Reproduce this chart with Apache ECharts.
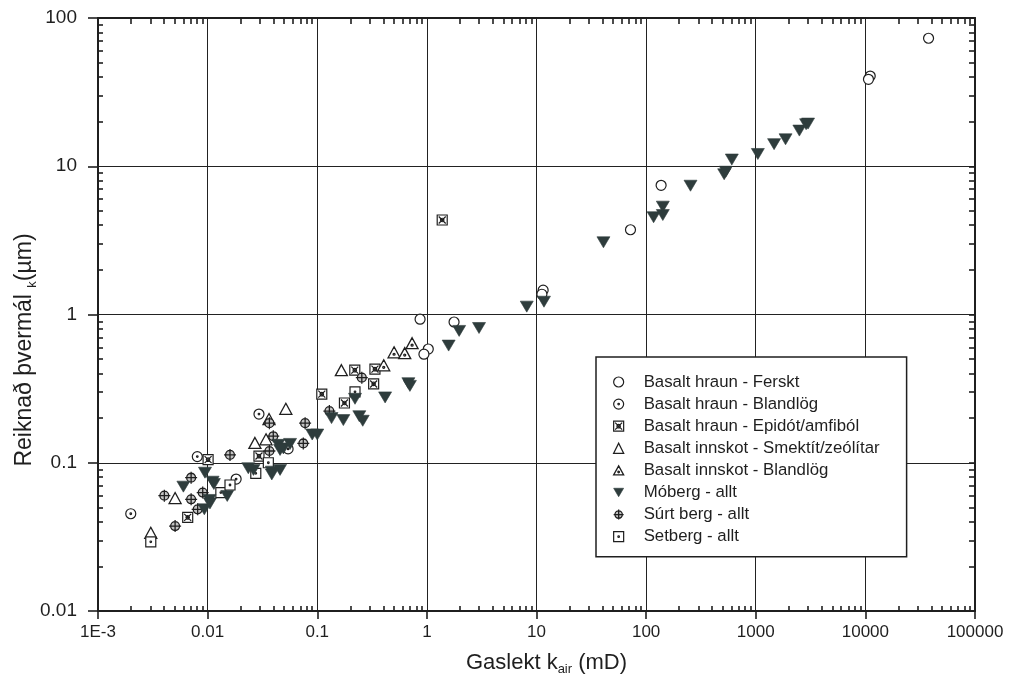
<!DOCTYPE html>
<html>
<head>
<meta charset="utf-8">
<title>Gaslekt og reiknað þvermál</title>
<script src="https://cdn.jsdelivr.net/npm/echarts@6/dist/echarts.min.js"></script>
<style>
  html, body { margin: 0; padding: 0; background: #fff; }
  #chart { width: 1019px; height: 684px; }
</style>
</head>
<body>
<div id="chart"></div>
<script>
// Sample data: [gas permeability k_air (mD), computed diameter (µm)]
const basaltFerskt = [
  [0.867, 0.93], [1.03, 0.585], [0.94, 0.54], [1.77, 0.89],
  [11.5, 1.46], [11.2, 1.37], [72, 3.73], [137, 7.44],
  [11070, 40.6], [10670, 38.6], [37700, 73]
];
const basaltBlandlog = [
  [0.0294, 0.213], [0.00805, 0.110], [0.00199, 0.0453], [0.0182, 0.0776], [0.0542, 0.124]
];
const basaltEpidot = [
  [1.38, 4.34], [0.0101, 0.105], [0.0294, 0.111], [0.110, 0.290], [0.177, 0.253],
  [0.220, 0.421], [0.336, 0.428], [0.327, 0.340], [0.00658, 0.0428]
];
const innskotSmektit = [
  [0.0517, 0.231], [0.0270, 0.136], [0.0341, 0.144], [0.00505, 0.0578],
  [0.166, 0.421], [0.00303, 0.0337]
];
const innskotBlandlog = [
  [0.0363, 0.197], [0.404, 0.454], [0.502, 0.556], [0.628, 0.549], [0.733, 0.640]
];
const moberg = [
  [8.15, 1.13], [11.7, 1.22], [40.8, 3.07], [117, 4.53], [142, 4.69], [142, 5.34],
  [254, 7.39], [515, 8.83], [533, 9.19], [605, 11.1], [1045, 12.1], [1470, 14.1],
  [1870, 15.2], [2500, 17.4], [2880, 19.2], [3000, 19.4],
  [1.97, 0.775], [2.99, 0.811], [1.58, 0.617], [0.678, 0.344], [0.70, 0.33],
  [0.416, 0.276], [0.221, 0.27], [0.135, 0.200], [0.173, 0.194], [0.242, 0.206],
  [0.260, 0.192], [0.090, 0.155], [0.100, 0.155], [0.0442, 0.132], [0.0491, 0.125],
  [0.0565, 0.134], [0.0458, 0.122], [0.0235, 0.0918], [0.0262, 0.0895],
  [0.0385, 0.0871], [0.0458, 0.0895], [0.0385, 0.0834], [0.00946, 0.0857],
  [0.00601, 0.0690], [0.0111, 0.0745], [0.0114, 0.0719], [0.0151, 0.0597],
  [0.0104, 0.0561], [0.00933, 0.0485], [0.0105, 0.0532]
];
const surtBerg = [
  [0.00403, 0.0600], [0.00505, 0.0374], [0.00707, 0.0793], [0.00707, 0.0567],
  [0.00902, 0.0629], [0.00811, 0.0485], [0.0160, 0.113], [0.0366, 0.185],
  [0.0397, 0.151], [0.0366, 0.120], [0.0775, 0.185], [0.0746, 0.135],
  [0.129, 0.223], [0.255, 0.375]
];
const setberg = [
  [0.00303, 0.0293], [0.0132, 0.0629], [0.0160, 0.0708], [0.0275, 0.0849],
  [0.0358, 0.100], [0.221, 0.301]
];

const seriesNames = [
  'Basalt hraun - Ferskt',
  'Basalt hraun - Blandlög',
  'Basalt hraun - Epidót/amfiból',
  'Basalt innskot - Smektít/zeólítar',
  'Basalt innskot - Blandlög',
  'Móberg - allt',
  'Súrt berg - allt',
  'Setberg - allt'
];
const xTickExponents = [-3, -2, -1, 0, 1, 2, 3, 4, 5];
const yTickExponents = [-2, -1, 0, 1, 2];

// Marker shapes
const DOT = 'M10,8.4A1.6,1.6 0 1 1 10,11.6A1.6,1.6 0 1 1 10,8.4Z';
const SYM = {
  circle: 'circle',
  dotCircle: 'path://M10,0A10,10 0 1 1 10,20A10,10 0 1 1 10,0Z ' + DOT,
  crossSquare: 'path://M0,0L20,0L20,20L0,20Z M3,3L17,17 M17,3L3,17 M10,6.5A3.5,3.5 0 1 1 10,13.5A3.5,3.5 0 1 1 10,6.5Z',
  triangle: 'triangle',
  dotTriangle: 'path://M10,0L20,18L0,18Z M10,10.6A1.6,1.6 0 1 1 10,13.8A1.6,1.6 0 1 1 10,10.6Z',
  downTriangle: 'path://M0,0L20,0L10,17Z',
  crossCircle: 'path://M10,2.6A7.4,7.4 0 1 1 10,17.4A7.4,7.4 0 1 1 10,2.6Z M10,0L10,20 M0,10L20,10',
  dotSquare: 'path://M0,0L20,0L20,20L0,20Z ' + DOT
};
const INK = '#1f1f1f';
const MOB = '#2e3c3c';
const styles = [
  { symbol: SYM.circle, size: 10, item: { color: '#fff', borderColor: INK, borderWidth: 1.2 } },
  { symbol: SYM.dotCircle, size: 10, item: { color: '#fff', borderColor: INK, borderWidth: 1.2 } },
  { symbol: SYM.crossSquare, size: 10, item: { color: '#fff', borderColor: INK, borderWidth: 1.2 } },
  { symbol: SYM.triangle, size: [12, 11], item: { color: '#fff', borderColor: INK, borderWidth: 1.3 } },
  { symbol: SYM.dotTriangle, size: [12, 11], item: { color: '#fff', borderColor: INK, borderWidth: 1.3 } },
  { symbol: SYM.downTriangle, size: [13, 11], item: { color: MOB, borderColor: MOB, borderWidth: 0.6 } },
  { symbol: SYM.crossCircle, size: 12, item: { color: '#c4c4c4', borderColor: INK, borderWidth: 1.3 } },
  { symbol: SYM.dotSquare, size: 10, item: { color: '#fff', borderColor: INK, borderWidth: 1.2 } }
];
const seriesData = [basaltFerskt, basaltBlandlog, basaltEpidot, innskotSmektit,
  innskotBlandlog, moberg, surtBerg, setberg];

// Minor tick positions (log10 space) for the 2..9 sub-decade marks
function minorTicks(lo, hi) {
  const out = [];
  for (let d = lo; d < hi; d++) {
    for (let k = 2; k <= 9; k++) out.push(d + Math.log10(k));
  }
  return out;
}
function majorTicks(lo, hi) {
  const out = [];
  for (let d = lo; d <= hi; d++) out.push(d);
  return out;
}
function decadeLabel(v) {
  const e = Math.round(Math.log10(v));
  if (e === -3) return '1E-3';
  if (e < 0) return '0.' + '0'.repeat(-e - 1) + '1';
  return String(Math.pow(10, e));
}

const FONT = '"Liberation Sans", Arial, Helvetica, sans-serif';
const xLo = xTickExponents[0], xHi = xTickExponents[xTickExponents.length - 1];
const yLo = yTickExponents[0], yHi = yTickExponents[yTickExponents.length - 1];
const xMin = Math.pow(10, xLo), xMax = Math.pow(10, xHi);
const yMin = Math.pow(10, yLo), yMax = Math.pow(10, yHi);

// Frame-side axes that only carry tick marks
const tickDecor = (pos, customValues, len) => {
  const horiz = pos === 'bottom' || pos === 'top';
  return {
    type: 'value', position: pos, min: horiz ? xLo : yLo, max: horiz ? xHi : yHi,
    axisLine: { show: pos === 'top' || pos === 'right', onZero: false, lineStyle: { color: INK, width: 2 } },
    axisTick: { show: true, inside: true, length: len, customValues: customValues,
      lineStyle: { color: INK, width: 1.6 } },
    axisLabel: { show: false }, splitLine: { show: false }, silent: true
  };
};

const chart = echarts.init(document.getElementById('chart'), null, { renderer: 'canvas' });
chart.setOption({
  backgroundColor: '#fff',
  animation: false,
  grid: { left: 98, right: 44, top: 18, bottom: 73, containLabel: false, outerBoundsMode: 'none' },
  xAxis: [
    {
      type: 'log', logBase: 10, min: xMin, max: xMax, position: 'bottom',
      name: '{a|Gaslekt k}{s|air}{a| (mD)}',
      nameLocation: 'middle', nameGap: 39, nameMoveOverlap: false,
      nameTextStyle: {
        padding: [0, 0, 0, 20],
        rich: {
          a: { fontSize: 22, fontFamily: FONT, color: INK, lineHeight: 26 },
          s: { fontSize: 13, fontFamily: FONT, color: INK, lineHeight: 26, padding: [13, 0, 0, 0] }
        }
      },
      axisLine: { show: true, onZero: false, lineStyle: { color: INK, width: 2 } },
      axisTick: { show: true, inside: false, length: 8, lineStyle: { color: INK, width: 1.6 } },
      axisLabel: { fontSize: 17, fontFamily: FONT, color: INK, margin: 13, formatter: decadeLabel },
      splitLine: { show: true, lineStyle: { color: '#222', width: 1 } }
    },
    tickDecor('bottom', minorTicks(xLo, xHi), 5),
    tickDecor('top', minorTicks(xLo, xHi), 6)
  ],
  yAxis: [
    {
      type: 'log', logBase: 10, min: yMin, max: yMax, position: 'left',
      name: '{a|Reiknað þvermál }{s|k}{a|(µm)}',
      nameLocation: 'middle', nameGap: 59, nameRotate: 90, nameMoveOverlap: false,
      nameTextStyle: {
        padding: [0, 71, 0, 0],
        rich: {
          a: { fontSize: 23, fontFamily: FONT, color: INK, lineHeight: 28 },
          s: { fontSize: 13, fontFamily: FONT, color: INK, lineHeight: 28, padding: [14, 0, 0, 0] }
        }
      },
      axisLine: { show: true, onZero: false, lineStyle: { color: INK, width: 2 } },
      axisTick: { show: true, inside: false, length: 10, lineStyle: { color: INK, width: 1.6 } },
      axisLabel: { fontSize: 19, fontFamily: FONT, color: INK, margin: 21, formatter: decadeLabel },
      splitLine: { show: true, lineStyle: { color: '#222', width: 1 } }
    },
    tickDecor('left', minorTicks(yLo, yHi), 5),
    tickDecor('right', minorTicks(yLo, yHi).concat(majorTicks(yLo, yHi)), 6)
  ],
  legend: {
    orient: 'vertical', left: 596, top: 357,
    backgroundColor: '#fff', borderColor: INK, borderWidth: 1.5, borderRadius: 0,
    padding: [16, 27, 11, 17],
    itemWidth: 10, itemHeight: 10, itemGap: 4.1,
    selectedMode: false,
    textStyle: { fontSize: 16.8, fontFamily: FONT, color: INK, lineHeight: 18, padding: [0, 0, 0, 15] },
    data: seriesNames.map((n, i) => ({ name: n, icon: styles[i].symbol, itemStyle: styles[i].item }))
  },
  series: seriesNames.map((n, i) => ({
    name: n, type: 'scatter', xAxisIndex: 0, yAxisIndex: 0,
    symbol: styles[i].symbol, symbolSize: styles[i].size,
    itemStyle: Object.assign({ opacity: 1 }, styles[i].item),
    emphasis: { disabled: true },
    z: i === 5 ? 3 : 2,
    data: seriesData[i]
  }))
});
</script>
</body>
</html>
